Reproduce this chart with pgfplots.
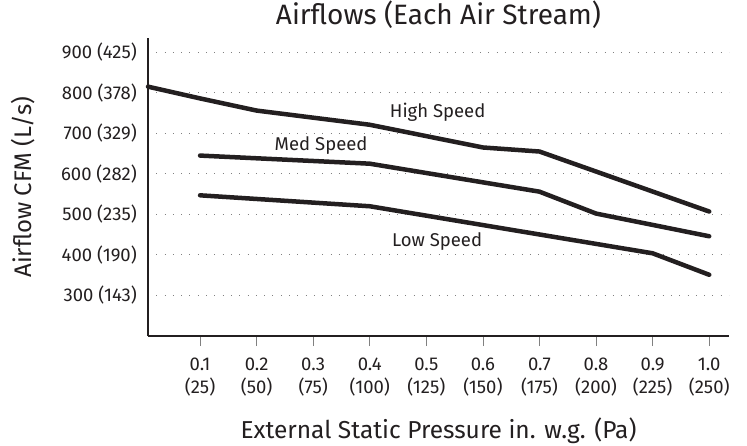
\documentclass[border=0pt]{standalone}
\usepackage{pgfplots}
\pgfplotsset{compat=1.18}
\usepackage{fontspec}
\setmainfont{Fira Sans}
\definecolor{ink}{HTML}{231F20}
\begin{document}
\begin{tikzpicture}
\begin{axis}[
  name=ax,
  at={(0,0)}, anchor=south west,
  scale only axis,
  width=581pt, height=298pt,
  xmin=0.008, xmax=1.035,
  ymin=200, ymax=935,
  axis x line*=bottom, axis y line*=left,
  axis line style={-, line width=1.5pt, ink},
  xtick={0.1,0.2,0.3,0.4,0.5,0.6,0.7,0.8,0.9,1.0},
  xticklabels={{0.1\\(25)},{0.2\\(50)},{0.3\\(75)},{0.4\\(100)},{0.5\\(125)},{0.6\\(150)},{0.7\\(175)},{0.8\\(200)},{0.9\\(225)},{1.0\\(250)}},
  ytick={300,400,500,600,700,800,900},
  yticklabels={300 (143),400 (190),500 (235),600 (282),700 (329),800 (378),900 (425)},
  xtick align=outside,
  major tick length=10pt,
  xtick style={line width=0.8pt, gray},
  ytick style={draw=none},
  ymajorgrids,
  grid style={gray, line width=0.9pt, dash pattern=on 0.9pt off 7.4pt},
  xticklabel style={font=\fontsize{18.5}{22.5}\selectfont, align=center, anchor=north, inner sep=0pt, yshift=-12pt, text=ink},
  yticklabel style={font=\fontsize{18.5}{20}\selectfont, anchor=east, inner sep=0pt, xshift=-11pt, text=ink},
  title={Airflows (Each Air Stream)},
  title style={font=\fontsize{28}{32}\selectfont, at={(axis description cs:0.5,1)}, anchor=base, yshift=7.7pt, text=ink},
  xlabel={External Static Pressure in. w.g. (Pa)},
  xlabel style={font=\fontsize{24.5}{28}\selectfont, at={(axis description cs:0.5,0)}, anchor=base, yshift=-102.6pt, text=ink},
  ylabel={Airflow CFM (L/s)},
  ylabel style={font=\fontsize{24}{28}\selectfont, at={(axis description cs:-0.2,0.5)}, anchor=base, text=ink},
  clip=false,
]
\addplot[ink, line width=4.5pt, line cap=round, line join=round] coordinates {
  (0.008,815) (0.1,786) (0.2,756) (0.4,721) (0.6,665) (0.7,655) (1.0,507)};
\addplot[ink, line width=4.5pt, line cap=round, line join=round] coordinates {
  (0.1,645) (0.4,625) (0.7,556) (0.8,502) (1.0,446)};
\addplot[ink, line width=4.5pt, line cap=round, line join=round] coordinates {
  (0.1,547) (0.4,520) (0.9,404) (1.0,351)};
\node[font=\fontsize{18.5}{20}\selectfont, text=ink] at (axis cs:0.52,753) {High Speed};
\node[font=\fontsize{18.5}{20}\selectfont, text=ink] at (axis cs:0.314,670) {Med Speed};
\node[font=\fontsize{18.5}{20}\selectfont, text=ink] at (axis cs:0.519,433) {Low Speed};
\end{axis}
\pgfresetboundingbox
\path ([shift={(-148pt,-109pt)}]ax.south west) rectangle ([shift={(18pt,38pt)}]ax.north east);
\end{tikzpicture}
\end{document}
